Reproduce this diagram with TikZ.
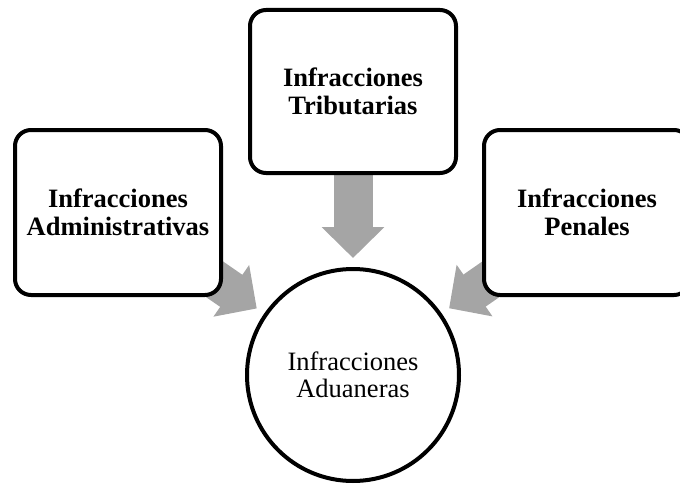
\documentclass[tikz,border=0pt]{standalone}
\usepackage{fontspec}
\setmainfont{Liberation Serif}
\usetikzlibrary{arrows.meta,backgrounds}
\definecolor{arrowgray}{RGB}{165,165,165}
\begin{document}
\begin{tikzpicture}[x=1pt,y=-1pt,
  box/.style={draw, line width=4pt, rounded corners=16pt, fill=white,
    minimum width=206pt, minimum height=165pt, align=center,
    font=\fontsize{26.5}{27.5}\selectfont\bfseries, inner sep=0pt},
  hub/.style={circle, draw, line width=4pt, fill=white, minimum size=212pt,
    align=center, font=\fontsize{26.5}{27}\selectfont, inner sep=0pt},
  flow/.style={draw=arrowgray, fill=arrowgray, line width=39pt,
    -{Triangle[width=61pt,length=31pt]}, shorten >=9pt}]
\useasboundingbox (0,0) rectangle (680,487);
\clip (0,0) rectangle (680,487);
\node[box, minimum height=163pt] (t) at (353,91.5) {Infracciones\\Tributarias};
\node[box] (l) at (118,212.5) {Infracciones\\Administrativas};
\node[box] (r) at (587,212.5) {Infracciones\\Penales};
\node[hub] (c) at (353,375) {Infracciones\\Aduaneras};
\begin{scope}[on background layer]
  \draw[flow] (t.center) -- (c);
  \draw[flow] (l.center) -- (c);
  \draw[flow] (r.center) -- (c);
\end{scope}
\end{tikzpicture}
\end{document}
